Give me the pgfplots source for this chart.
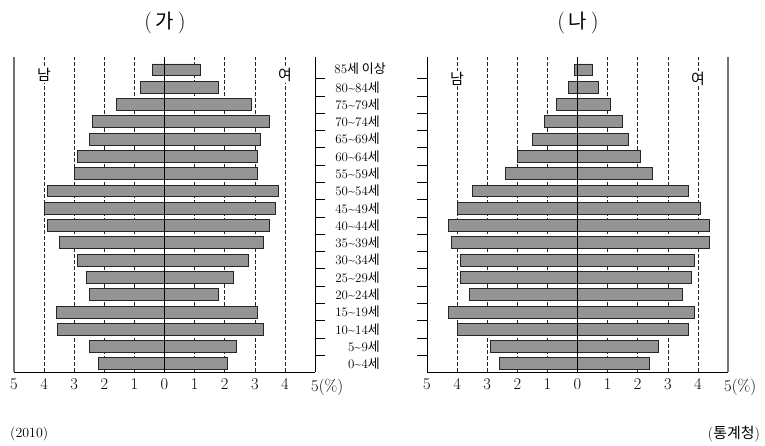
\documentclass[border=0pt]{standalone}
\usepackage{pgfplots}
\pgfplotsset{compat=1.18}
\usepackage{pgfplotstable}
\usepackage{fontspec}
\newfontfamily\kr{Noto Sans CJK KR}
\definecolor{barfill}{RGB}{148,148,150}
\definecolor{framegray}{RGB}{115,115,115}

% (ga) idx 0 = 0~4
\pgfplotstableread{
idx male female
0 2.2 2.1
1 2.5 2.4
2 3.55 3.3
3 3.6 3.1
4 2.5 1.8
5 2.6 2.3
6 2.9 2.8
7 3.5 3.3
8 3.9 3.5
9 4.0 3.7
10 3.9 3.8
11 3.0 3.1
12 2.9 3.1
13 2.5 3.2
14 2.4 3.5
15 1.6 2.9
16 0.8 1.8
17 0.4 1.2
}\dataA

% (na)
\pgfplotstableread{
idx male female
0 2.6 2.4
1 2.9 2.7
2 4.0 3.7
3 4.3 3.9
4 3.6 3.5
5 3.9 3.8
6 3.9 3.9
7 4.2 4.4
8 4.3 4.4
9 4.0 4.1
10 3.5 3.7
11 2.4 2.5
12 2.0 2.1
13 1.5 1.7
14 1.1 1.5
15 0.7 1.1
16 0.3 0.7
17 0.1 0.5
}\dataB

\newcommand\ag[2]{#1\textasciitilde#2{\kr 세}}

\pgfplotsset{
  pyr/.style={
    scale only axis, width=301bp, height=315bp,
    xmin=-5, xmax=5, ymin=-0.47, ymax=17.75,
    xtick={-5,...,5},
    xticklabels={5,4,3,2,1,0,1,2,3,4,{5\rlap{(\%)}}},
    xtick style={draw=none},
    ytick={0.5,1.5,...,16.5},
    yticklabels={},
    tick align=center,
    major tick length=10bp,
    ytick style={black, line width=0.7bp},
    xmajorgrids=true,
    grid style={black!85, line width=0.6bp, dash pattern=on 3.5bp off 2.5bp},
    axis line style={-, black, line width=0.9bp},
    xticklabel style={font=\fontsize{16.5}{16.5}\selectfont, inner sep=1.5bp},
    clip=false,
    xbar, bar shift=0pt, bar width=0.69,
  },
  barsty/.style={fill=barfill, draw=black!85, line width=0.9bp},
}
\tikzset{
  sexlab/.style={fill=white, inner sep=1bp, font=\kr\fontsize{15}{15}\selectfont},
  catlab/.style={anchor=east, inner sep=0pt, font=\fontsize{13}{13}\selectfont},
}

\begin{document}
\begin{tikzpicture}
\useasboundingbox (0,0) rectangle (765bp,446bp);

% ---------- (ga) ----------
\begin{axis}[pyr, at={(14bp,74bp)}, anchor=south west,
  axis x line*=bottom, axis y line*=right]
\addplot[barsty] table[x expr=-\thisrow{male}, y=idx]{\dataA};
\addplot[barsty] table[x=female, y=idx]{\dataA};
\draw[framegray, line width=1.5bp] (axis cs:-5,-0.47) -- (axis cs:-5,17.75);
\draw[black, line width=1.2bp] (axis cs:0,-0.47) -- (axis cs:0,17.75);
\node[sexlab] at (axis cs:-4,16.7) {남};
\node[sexlab] at (axis cs:4,16.7) {여};
% category labels
\node[anchor=center, inner sep=0pt, font=\fontsize{13}{13}\selectfont] at (axis cs:6.5,17.1) {85{\kr 세 이상}};
\node[catlab] at (axis cs:7.16,16) {\ag{80}{84}};
\node[catlab] at (axis cs:7.16,15) {\ag{75}{79}};
\node[catlab] at (axis cs:7.16,14) {\ag{70}{74}};
\node[catlab] at (axis cs:7.16,13) {\ag{65}{69}};
\node[catlab] at (axis cs:7.16,12) {\ag{60}{64}};
\node[catlab] at (axis cs:7.16,11) {\ag{55}{59}};
\node[catlab] at (axis cs:7.16,10) {\ag{50}{54}};
\node[catlab] at (axis cs:7.16,9) {\ag{45}{49}};
\node[catlab] at (axis cs:7.16,8) {\ag{40}{44}};
\node[catlab] at (axis cs:7.16,7) {\ag{35}{39}};
\node[catlab] at (axis cs:7.16,6) {\ag{30}{34}};
\node[catlab] at (axis cs:7.16,5) {\ag{25}{29}};
\node[catlab] at (axis cs:7.16,4) {\ag{20}{24}};
\node[catlab] at (axis cs:7.16,3) {\ag{15}{19}};
\node[catlab] at (axis cs:7.16,2) {\ag{10}{14}};
\node[catlab] at (axis cs:7.16,1) {\ag{5}{9}};
\node[catlab] at (axis cs:7.16,0) {\ag{0}{4}};
\end{axis}

% ---------- (na) ----------
\begin{axis}[pyr, at={(427bp,74bp)}, anchor=south west,
  axis x line*=bottom, axis y line*=left]
\addplot[barsty] table[x expr=-\thisrow{male}, y=idx]{\dataB};
\addplot[barsty] table[x=female, y=idx]{\dataB};
\draw[framegray, line width=1.5bp] (axis cs:5,-0.47) -- (axis cs:5,17.75);
\draw[black, line width=1.2bp] (axis cs:0,-0.47) -- (axis cs:0,17.75);
\node[sexlab] at (axis cs:-4,16.5) {남};
\node[sexlab] at (axis cs:4,16.5) {여};
\end{axis}

% titles and notes
\node[font=\fontsize{22}{22}\selectfont] at (165bp,423bp) {(\,{\kr\fontsize{20}{20}\selectfont 가}\,)};
\node[font=\fontsize{22}{22}\selectfont] at (578bp,423bp) {(\,{\kr\fontsize{20}{20}\selectfont 나}\,)};
\node[anchor=west, inner sep=0pt, font=\fontsize{14}{14}\selectfont] at (10bp,12bp) {(2010)};
\node[anchor=east, inner sep=0pt, font=\fontsize{15}{15}\selectfont] at (760bp,12bp) {({\kr 통계청})};
\end{tikzpicture}
\end{document}
